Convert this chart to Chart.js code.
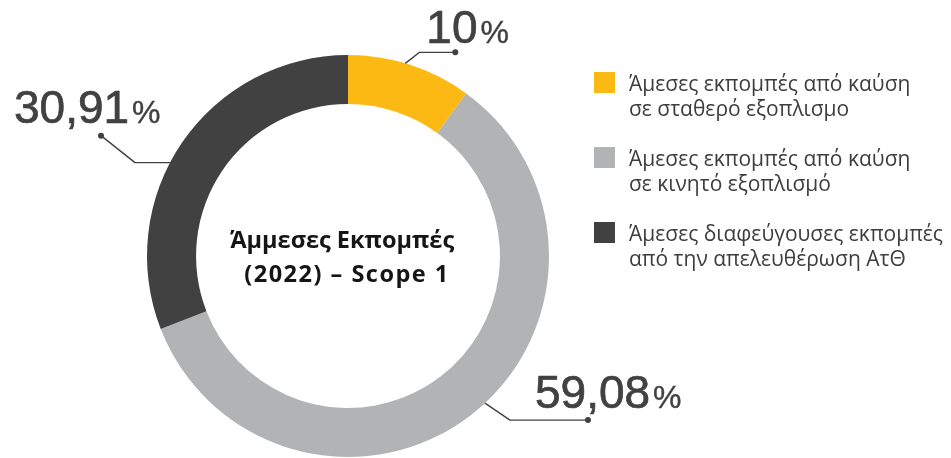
<!DOCTYPE html>
<html lang="el">
<head>
<meta charset="utf-8">
<script src="https://cdn.jsdelivr.net/npm/chart.js@4.4.1/dist/chart.umd.min.js"></script>
<style>
  html, body { margin: 0; padding: 0; background: #fff; }
  #wrap { position: relative; width: 951px; height: 458px; overflow: hidden; }
  #chart { position: absolute; left: 0; top: 0; }
  #legend { position: absolute; left: 594px; top: 71px; margin: 0; padding: 0; list-style: none;
            font-family: "Open Sans", "Noto Sans", sans-serif; font-size: 21px; line-height: 25px; color: #3d3d3e; }
  #legend li { position: relative; padding-left: 35px; height: 50px; margin-bottom: 25px; white-space: nowrap; }
  #legend .sw { position: absolute; left: 0; top: 1px; width: 21px; height: 21px; }
</style>
</head>
<body>
<div id="wrap">
  <canvas id="chart" width="951" height="458"></canvas>
  <ul id="legend"></ul>
</div>
<script>
// Scope 1 direct emissions 2022, share per source (%)
const categories = [
  ['Άμεσες εκπομπές από καύση', 'σε σταθερό εξοπλισμο'],
  ['Άμεσες εκπομπές από καύση', 'σε κινητό εξοπλισμό'],
  ['Άμεσες διαφεύγουσες εκπομπές', 'από την απελευθέρωση ΑτΘ']
];
const values = [10, 59.08, 30.91];
const colors = ['#FDB913', '#B1B3B5', '#414142'];
const centerTitle = ['Άμμεσες Εκπομπές', '(2022) – Scope 1'];

// Leader-line layout per slice: where on the arc it starts (fraction of the sweep),
// the elbow offset, the dot offset, and the text origin relative to the dot.
const calloutLayout = [
  { frac: 0.46, elbow: [14, -11], dot: [50, -11], text: [-29, -9] },
  { frac: 0.475, elbow: [25, 17], dot: [103, 17], text: [-53, -12] },
  { frac: 0.44, elbow: [-35, 0], dot: [-69, -27], text: [-87, -13] }
];

const INK = '#414142';
const fmt = v => String(v).replace('.', ',');

// HTML legend
const legend = document.getElementById('legend');
categories.forEach((lines, i) => {
  const li = document.createElement('li');
  const sw = document.createElement('span');
  sw.className = 'sw';
  sw.style.background = colors[i];
  li.appendChild(sw);
  li.appendChild(document.createTextNode(lines[0]));
  li.appendChild(document.createElement('br'));
  li.appendChild(document.createTextNode(lines[1]));
  legend.appendChild(li);
});

function heavyText(ctx, s, x, y, w) {
  ctx.fillText(s, x, y);
  ctx.lineWidth = w;
  ctx.strokeText(s, x, y);
}

const calloutPlugin = {
  id: 'callouts',
  afterDatasetsDraw(chart) {
    const ctx = chart.ctx;
    const meta = chart.getDatasetMeta(0);
    ctx.save();
    meta.data.forEach((arc, i) => {
      const p = arc.getProps(['x', 'y', 'startAngle', 'endAngle', 'outerRadius'], true);
      const L = calloutLayout[i];
      const a = p.startAngle + (p.endAngle - p.startAngle) * L.frac;
      const ax = p.x + Math.cos(a) * p.outerRadius;
      const ay = p.y + Math.sin(a) * p.outerRadius;
      const ex = ax + L.elbow[0], ey = ay + L.elbow[1];
      const dx = ax + L.dot[0], dy = ay + L.dot[1];
      ctx.strokeStyle = INK;
      ctx.lineWidth = 1.4;
      ctx.beginPath();
      ctx.moveTo(ax, ay);
      ctx.lineTo(ex, ey);
      ctx.lineTo(dx, dy);
      ctx.stroke();
      ctx.fillStyle = INK;
      ctx.beginPath();
      ctx.arc(dx, dy, 3, 0, Math.PI * 2);
      ctx.fill();

      const tx = dx + L.text[0], ty = dy + L.text[1];
      ctx.textBaseline = 'alphabetic';
      ctx.textAlign = 'left';
      ctx.lineJoin = 'round';
      ctx.font = '46px "Liberation Sans", Arial, sans-serif';
      const num = fmt(chart.data.datasets[0].data[i]);
      heavyText(ctx, num, tx, ty, 0.7);
      const w = ctx.measureText(num).width;
      ctx.font = '32px "Liberation Sans", Arial, sans-serif';
      heavyText(ctx, '%', tx + w + 3, ty, 0.4);
    });

    // centre title
    const c = meta.data[0];
    ctx.fillStyle = '#151515';
    ctx.textAlign = 'center';
    ctx.font = 'bold 23.5px "Open Sans", "Noto Sans", sans-serif';
    ctx.fillText(centerTitle[0], c.x - 6, 248);
    ctx.letterSpacing = '1.5px';
    ctx.fillText(centerTitle[1], c.x - 1, 282);
    ctx.restore();
  }
};

new Chart(document.getElementById('chart'), {
  type: 'doughnut',
  data: {
    labels: categories.map(l => l.join(' ')),
    datasets: [{
      data: values,
      backgroundColor: colors,
      borderWidth: 0,
      hoverOffset: 0
    }]
  },
  options: {
    responsive: false,
    animation: false,
    cutout: '75.6%',
    layout: { padding: { top: 55, bottom: 1, left: 147, right: 402 } },
    plugins: { legend: { display: false }, tooltip: { enabled: false } },
    events: []
  },
  plugins: [calloutPlugin]
});
</script>
</body>
</html>
